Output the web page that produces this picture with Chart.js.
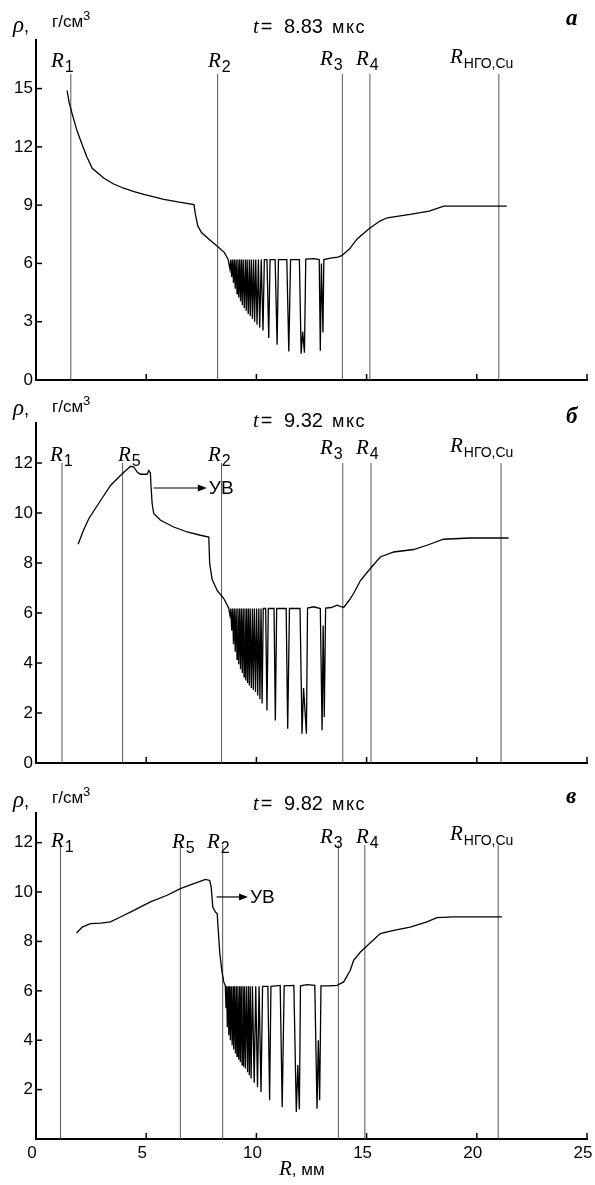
<!DOCTYPE html>
<html>
<head>
<meta charset="utf-8">
<script src="https://cdn.jsdelivr.net/npm/chart.js@4.4.0/dist/chart.umd.min.js"></script>
<style>
  html, body { margin: 0; padding: 0; background: #fff; }
  #wrap { position: relative; width: 595px; height: 1185px; }
  .panel { position: absolute; left: 0; width: 595px; }
</style>
</head>
<body>
<div id="wrap">
  <div class="panel" style="top:0;height:395px"><canvas id="chartA"></canvas></div>
  <div class="panel" style="top:395px;height:380px"><canvas id="chartB"></canvas></div>
  <div class="panel" style="top:775px;height:410px"><canvas id="chartC"></canvas></div>
</div>
<script>
// shared x axis (R, mm)
const xTicks = [0, 5, 10, 15, 20, 25];

// panel а, t = 8.83 мкс : density rho (g/cm3) vs R (mm)
const rhoA = [
  [1.41,14.9],[1.5,14.3],[1.64,13.7],[1.87,12.8],[2.1,12.1],[2.3,11.5],[2.55,10.9],[3.07,10.4],
  [3.5,10.1],[3.98,9.87],[4.45,9.7],[4.89,9.56],[5.35,9.42],[5.8,9.3],[6.5,9.15],[7.17,9.03],
  [7.22,8.6],[7.34,7.93],[7.51,7.59],[7.85,7.25],[8.2,6.91],[8.54,6.57],[8.72,6.2],
  [8.8,5.7],[8.84,6.2],[8.88,5.3],[8.92,6.2],[8.96,5.0],[9.0,6.2],[9.04,4.7],[9.08,6.2],
  [9.12,4.45],[9.16,6.2],[9.2,4.25],[9.24,6.2],[9.28,4.05],[9.32,6.2],[9.36,3.85],[9.4,6.2],
  [9.45,3.7],[9.5,6.2],[9.54,3.55],[9.58,6.2],[9.63,3.4],[9.68,6.2],[9.72,3.3],[9.77,6.2],
  [9.82,3.15],[9.87,6.2],[9.92,3.0],[9.97,6.2],[10.03,2.85],[10.09,6.2],[10.15,2.7],[10.22,6.2],
  [10.3,2.55],[10.36,6.2],[10.48,6.2],[10.56,2.16],[10.62,6.2],[10.85,6.2],[10.94,1.81],[11.0,6.2],
  [11.38,6.2],[11.47,1.47],[11.55,6.2],[11.95,6.2],[12.03,1.35],[12.1,2.5],[12.18,1.4],[12.24,6.22],
  [12.6,6.25],[12.85,6.2],[12.9,1.5],[12.95,6.0],[13.02,2.45],[13.06,6.2],[13.37,6.27],[13.7,6.32],
  [13.87,6.4],[14.22,6.74],[14.56,7.25],[15.08,7.76],[15.6,8.18],[15.94,8.35],[16.97,8.52],
  [17.84,8.69],[18.5,8.95],[21.36,8.95]
];
const markersA = [1.58, 8.24, 13.9, 15.15, 21.0];
const markerNamesA = ['1', '2', '3', '4', 'НГО,Cu'];
const yTicksA = [0, 3, 6, 9, 12, 15];

// panel б, t = 9.32 мкс
const rhoB = [
  [1.91,8.75],[2.15,9.3],[2.4,9.78],[2.93,10.5],[3.38,11.1],[3.91,11.57],[4.29,11.87],[4.44,11.84],
  [4.59,11.64],[4.74,11.55],[5.04,11.55],[5.12,11.7],[5.19,11.6],[5.22,11.04],[5.27,10.38],[5.34,9.98],
  [5.65,9.71],[6.25,9.44],[6.86,9.24],[7.46,9.11],[7.84,9.04],[7.88,7.98],[7.99,7.35],[8.22,6.9],
  [8.52,6.58],[8.74,6.2],
  [8.8,5.9],[8.84,6.18],[8.88,5.3],[8.92,6.18],[8.96,4.75],[9.0,6.18],[9.04,4.45],[9.08,6.18],
  [9.12,4.15],[9.16,6.18],[9.2,3.95],[9.24,6.18],[9.28,3.75],[9.32,6.18],[9.36,3.6],[9.4,6.18],
  [9.44,3.45],[9.48,6.18],[9.52,3.3],[9.56,6.18],[9.6,3.2],[9.64,6.18],[9.68,3.1],[9.72,6.18],
  [9.77,3.0],[9.82,6.18],[9.86,2.92],[9.91,6.18],[9.96,2.84],[10.01,6.18],[10.06,2.7],[10.11,6.18],
  [10.16,2.55],[10.21,6.18],[10.26,2.38],[10.31,6.18],[10.42,6.18],[10.48,2.1],[10.54,6.18],
  [10.8,6.18],[10.86,1.7],[10.92,6.18],[11.35,6.18],[11.42,1.37],[11.5,6.18],[11.98,6.18],
  [12.07,1.17],[12.14,3.0],[12.27,1.17],[12.32,6.2],[12.6,6.25],[12.9,6.18],[12.98,1.31],
  [13.03,5.5],[13.08,1.84],[13.14,6.2],[13.4,6.22],[13.66,6.31],[13.96,6.22],[14.2,6.5],
  [14.41,6.78],[14.72,7.3],[15.17,7.78],[15.62,8.24],[16.23,8.44],[17.13,8.54],[17.74,8.71],
  [18.49,8.95],[19.7,9.0],[21.44,9.0]
];
const markersB = [1.18, 3.93, 8.42, 13.92, 15.2, 21.1];
const markerNamesB = ['1', '5', '2', '3', '4', 'НГО,Cu'];
const yTicksB = [0, 2, 4, 6, 8, 10, 12];

// panel в, t = 9.82 мкс
const rhoC = [
  [1.84,8.34],[2.1,8.58],[2.47,8.72],[2.93,8.74],[3.38,8.79],[3.83,8.99],[4.44,9.26],[5.19,9.6],
  [5.95,9.87],[6.55,10.14],[7.16,10.34],[7.69,10.51],[7.88,10.47],[7.95,10.2],[8.02,9.39],
  [8.14,9.19],[8.22,9.13],[8.26,8.58],[8.34,7.51],[8.44,6.76],[8.52,6.36],[8.59,6.2],
  [8.62,5.3],[8.65,6.18],[8.68,4.53],[8.72,6.18],[8.75,4.2],[8.79,6.18],[8.82,4.0],[8.86,6.18],
  [8.9,3.8],[8.94,6.18],[8.97,3.62],[9.01,6.18],[9.05,3.46],[9.09,6.18],[9.12,3.35],[9.16,6.18],
  [9.2,3.22],[9.24,6.18],[9.27,3.12],[9.31,6.18],[9.35,3.0],[9.39,6.18],[9.42,2.93],[9.46,6.18],
  [9.5,2.85],[9.55,6.18],[9.6,2.7],[9.64,6.18],[9.68,2.58],[9.72,6.18],[9.76,2.45],[9.82,6.18],
  [9.9,2.28],[9.97,6.18],[10.05,2.1],[10.12,6.18],[10.21,1.9],[10.28,6.18],[10.52,6.18],
  [10.6,1.57],[10.66,6.18],[11.08,6.22],[11.17,1.3],[11.26,6.2],[11.7,6.22],[11.81,1.09],
  [11.88,3.0],[11.95,1.2],[12.0,6.2],[12.3,6.25],[12.65,6.22],[12.75,1.23],[12.81,4.0],
  [12.87,1.57],[12.93,6.2],[13.3,6.2],[13.66,6.22],[13.96,6.36],[14.26,6.83],[14.41,7.23],
  [14.72,7.57],[15.62,8.32],[16.23,8.45],[16.98,8.58],[17.74,8.79],[18.19,8.96],[18.95,8.99],
  [21.14,8.99]
];
const markersC = [1.11, 6.55, 8.47, 13.72, 14.92, 20.97];
const markerNamesC = ['1', '5', '2', '3', '4', 'НГО,Cu'];
const yTicksC = [2, 4, 6, 8, 10, 12];

const SERIF_I = 'italic 21px "Liberation Serif"';
const SANS = '"Liberation Sans", Arial, sans-serif';

function rich(ctx, x, y, parts) {
  parts.forEach(([t, font, dy, gap]) => {
    ctx.font = font;
    ctx.fillText(t, x, y + (dy || 0));
    x += ctx.measureText(t).width + (gap || 0);
  });
}

// panel layout (pixels in each canvas)
const panels = [
  {
    id: 'chartA', curve: rhoA, markers: markersA, names: markerNamesA, yTicks: yTicksA,
    yMax: 17.5, padTop: 40, xHeight: 15, markerTop: 15.75, xLabels: false,
    time: '8.83', letter: 'а', rhoY: 32, headY: 33, unitY: 27, letterY: 25,
    labelPos: [[51,67],[208,67],[320,65],[356,65],[450,63]]
  },
  {
    id: 'chartB', curve: rhoB, markers: markersB, names: markerNamesB, yTicks: yTicksB,
    yMax: 13.6, padTop: 28, xHeight: 12, markerTop: 12.0, xLabels: false,
    time: '9.32', letter: 'б', rhoY: 20, headY: 32, unitY: 17, letterY: 28,
    labelPos: [[50,66],[118,66],[208,66],[320,59],[356,59],[450,57]],
    arrow: { x0: 5.34, x1: 7.75, y: 11.0 }
  },
  {
    id: 'chartC', curve: rhoC, markers: markersC, names: markerNamesC, yTicks: yTicksC,
    yMax: 13.2, padTop: 38, xHeight: 46, markerTop: 11.9, xLabels: true,
    time: '9.82', letter: 'в', rhoY: 32, headY: 35, unitY: 28, letterY: 28,
    labelPos: [[51,72],[172,73],[207,73],[320,68],[356,68],[450,65]],
    arrow: { x0: 8.19, x1: 9.62, y: 9.8 }
  }
];

function makeDecor(p) {
  return {
    id: 'decor',
    afterDraw(chart) {
      const ctx = chart.ctx, xs = chart.scales.x, ys = chart.scales.y, a = chart.chartArea;
      ctx.save();
      ctx.strokeStyle = '#000';
      ctx.fillStyle = '#000';
      ctx.lineWidth = 1.5;
      // inward tick marks
      xTicks.forEach(v => {
        const px = xs.getPixelForValue(v);
        ctx.beginPath(); ctx.moveTo(px, a.bottom); ctx.lineTo(px, a.bottom - 6); ctx.stroke();
      });
      p.yTicks.forEach(v => {
        const py = ys.getPixelForValue(v);
        ctx.beginPath(); ctx.moveTo(a.left, py); ctx.lineTo(a.left + 6, py); ctx.stroke();
      });
      // marker labels R_i
      ctx.textBaseline = 'alphabetic';
      ctx.textAlign = 'left';
      p.names.forEach((n, i) => {
        const [lx, ly] = p.labelPos[i];
        const subSize = n.length > 1 ? 14 : 16;
        rich(ctx, lx, ly, [['R', SERIF_I, 0, 1], [n, subSize + 'px ' + SANS, 5]]);
      });
      // header
      rich(ctx, 13, p.rhoY, [['ρ', 'italic 23px "Liberation Serif"', 0], [',', '18px ' + SANS, 0]]);
      rich(ctx, 52, p.unitY, [['г/см', '17px ' + SANS, 0], ['3', '13px ' + SANS, -7]]);
      rich(ctx, 253, p.headY, [['t', SERIF_I, 0, 2], ['=', '20px ' + SANS, 0]]);
      rich(ctx, 284, p.headY, [[p.time, '20px ' + SANS, 0]]);
      ctx.font = '18px ' + SANS;
      ctx.letterSpacing = '1.5px';
      ctx.fillText('мкс', 332, p.headY);
      ctx.letterSpacing = '0px';
      ctx.font = 'bold italic 23px "Liberation Serif"';
      ctx.fillText(p.letter, 566, p.letterY);
      // shock wave arrow
      if (p.arrow) {
        const x0 = xs.getPixelForValue(p.arrow.x0), x1 = xs.getPixelForValue(p.arrow.x1);
        const y = ys.getPixelForValue(p.arrow.y);
        ctx.lineWidth = 1.2;
        ctx.beginPath(); ctx.moveTo(x0, y); ctx.lineTo(x1 - 6, y); ctx.stroke();
        ctx.beginPath(); ctx.moveTo(x1, y); ctx.lineTo(x1 - 9, y - 3.5); ctx.lineTo(x1 - 9, y + 3.5); ctx.closePath(); ctx.fill();
        ctx.font = '19px ' + SANS;
        ctx.textBaseline = 'middle';
        ctx.fillText('УВ', x1 + 2, y + 1);
        ctx.textBaseline = 'alphabetic';
      }
      // x axis title
      if (p.xLabels) {
        rich(ctx, 279, a.bottom + 36, [['R', SERIF_I, 0], [', мм', '17px ' + SANS, 0]]);
      }
      ctx.restore();
    }
  };
}

function makePanel(p) {
  const datasets = [{
    data: p.curve.map(([x, y]) => ({ x, y })),
    borderColor: '#000', borderWidth: 1.3, pointRadius: 0, order: 0
  }];
  p.markers.forEach(m => datasets.push({
    data: [{ x: m, y: 0 }, { x: m, y: p.markerTop }],
    borderColor: '#555', borderWidth: 1, pointRadius: 0, order: 1
  }));
  return new Chart(document.getElementById(p.id), {
    type: 'line',
    data: { datasets },
    options: {
      responsive: true,
      maintainAspectRatio: false,
      animation: false,
      layout: { padding: { top: p.padTop, right: 8, left: 0, bottom: 0 } },
      plugins: { legend: { display: false }, tooltip: { enabled: false } },
      scales: {
        x: {
          type: 'linear', min: 0, max: 25,
          grid: { display: false, drawTicks: false },
          border: { display: true, color: '#000', width: 2 },
          ticks: { display: p.xLabels, color: '#000', padding: 4, labelOffset: -4,
                   font: { family: SANS, size: 17 } },
          afterBuildTicks: s => { s.ticks = xTicks.map(v => ({ value: v })); },
          afterFit: s => { s.height = p.xHeight; s.paddingLeft = 0; s.paddingRight = 0; }
        },
        y: {
          type: 'linear', min: 0, max: p.yMax,
          grid: { display: false, drawTicks: false },
          border: { display: true, color: '#000', width: 2 },
          ticks: { color: '#000', padding: 3, font: { family: SANS, size: 17 } },
          afterBuildTicks: s => { s.ticks = p.yTicks.map(v => ({ value: v })); },
          afterFit: s => { s.width = 36; s.paddingTop = 0; s.paddingBottom = 0; }
        }
      }
    },
    plugins: [makeDecor(p)]
  });
}

panels.forEach(makePanel);
</script>
</body>
</html>
